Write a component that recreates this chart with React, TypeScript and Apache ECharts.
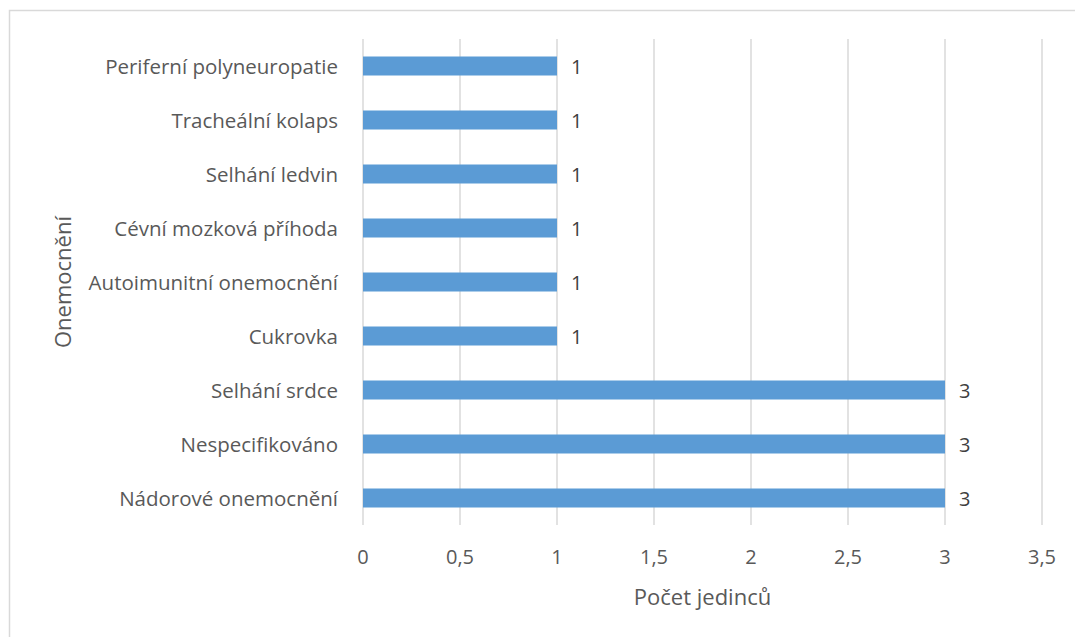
import React, { useEffect, useRef } from "react";
import * as echarts from "echarts";

const categories = [
  "Nádorové onemocnění",
  "Nespecifikováno",
  "Selhání srdce",
  "Cukrovka",
  "Autoimunitní onemocnění",
  "Cévní mozková příhoda",
  "Selhání ledvin",
  "Tracheální kolaps",
  "Periferní polyneuropatie",
];
const counts = [3, 3, 3, 1, 1, 1, 1, 1, 1];
const xAxisTitle = "Počet jedinců";
const yAxisTitle = "Onemocnění";

const FONT = "'Open Sans', sans-serif";

export default function App() {
  const ref = useRef<HTMLDivElement>(null);
  useEffect(() => {
    document.body.style.margin = "0";
    const chart = echarts.init(ref.current!, null, { renderer: "svg" });
    chart.setOption({
      animation: false,
      textStyle: { fontFamily: FONT },
      graphic: [
        {
          type: "rect",
          shape: { x: 9.5, y: 10.5, width: 1200, height: 800 },
          style: { fill: "none", stroke: "#d9d9d9", lineWidth: 1.5 },
          silent: true,
        },
      ],
      grid: { left: 363, right: 33, top: 39, bottom: 112 },
      xAxis: {
        type: "value",
        min: 0,
        max: 3.5,
        interval: 0.5,
        axisLine: { show: false },
        axisTick: { show: false },
        splitLine: { lineStyle: { color: "#d9d9d9", width: 1.5 } },
        axisLabel: {
          color: "#595959",
          fontSize: 20,
          fontFamily: FONT,
          margin: 21,
          formatter: (v: number) => String(v).replace(".", ","),
        },
        name: xAxisTitle,
        nameLocation: "middle",
        nameGap: 60,
        nameTextStyle: { color: "#595959", fontSize: 22, fontFamily: FONT },
      },
      yAxis: {
        type: "category",
        data: categories,
        axisLine: { show: false },
        axisTick: { show: false },
        axisLabel: { color: "#595959", fontSize: 20.5, fontFamily: FONT, margin: 25 },
        name: yAxisTitle,
        nameLocation: "middle",
        nameRotate: 90,
        nameGap: 290,
        nameTextStyle: { color: "#595959", fontSize: 22, fontFamily: FONT },
      },
      series: [
        {
          type: "bar",
          data: counts,
          barWidth: 19,
          itemStyle: { color: "#5b9bd5" },
          label: {
            show: true,
            position: "right",
            distance: 14,
            color: "#404040",
            fontSize: 20,
            fontFamily: FONT,
          },
        },
      ],
    });
    return () => chart.dispose();
  }, []);
  return <div ref={ref} style={{ width: 1075, height: 637 }} />;
}
